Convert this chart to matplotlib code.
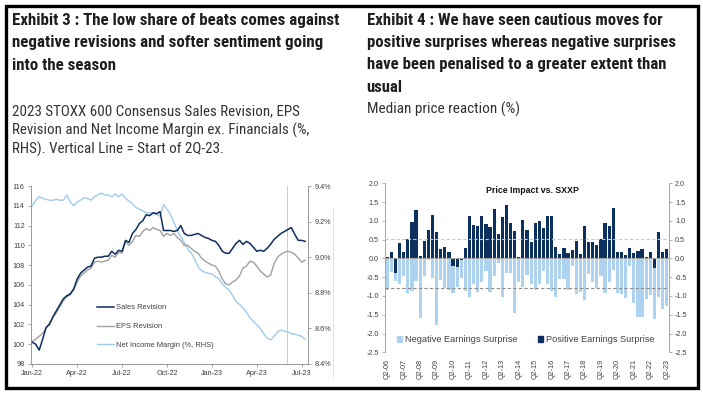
import matplotlib
matplotlib.use('Agg')
import matplotlib.pyplot as plt
import matplotlib.dates as mdates
from matplotlib import font_manager as fm
from matplotlib.patches import Rectangle, Patch
from matplotlib.lines import Line2D
from matplotlib.ticker import FuncFormatter, MultipleLocator
import numpy as np
import pandas as pd

# ---------------- data: Exhibit 3 (weekly readings) ----------------
series_start = '2022-01-01'
sales_revision = [100.2, 100.0, 99.4, 100.5, 101.7, 102.0, 102.8, 103.4, 104.0, 104.6,
                  104.9, 105.1, 105.6, 106.6, 107.2, 107.5, 107.8, 107.9, 108.7, 108.8,
                  108.8, 108.9, 108.9, 109.4, 109.1, 109.5, 109.4, 110.5, 110.3, 111.2,
                  111.6, 112.2, 112.5, 113.1, 113.0, 113.3, 113.2, 113.4, 111.5, 111.5,
                  111.5, 111.4, 111.5, 112.0, 111.2, 111.0, 111.0, 111.1, 111.2, 111.0,
                  110.8, 110.7, 110.5, 110.4, 110.0, 109.4, 109.2, 109.2, 109.7, 110.2,
                  110.5, 110.1, 110.4, 110.2, 109.8, 109.4, 109.5, 109.4, 109.7, 110.1,
                  110.6, 110.9, 111.2, 111.4, 111.6, 111.8, 111.1, 110.5, 110.5, 110.4]
eps_revision = [100.3, 100.5, 100.8, 101.1, 101.6, 102.2, 102.7, 103.2, 103.8, 104.4,
                104.8, 105.0, 105.5, 106.3, 106.9, 107.2, 107.5, 107.7, 108.3, 108.4,
                108.3, 108.4, 108.5, 109.0, 108.8, 109.3, 109.2, 110.4, 110.0, 110.4,
                111.0, 110.9, 111.4, 111.7, 111.5, 111.8, 111.6, 111.5, 110.9, 111.2,
                111.0, 111.2, 110.8, 110.5, 110.0, 110.0, 109.7, 109.4, 109.2, 108.7,
                108.4, 108.2, 108.0, 107.9, 107.4, 106.6, 106.1, 106.0, 106.3, 106.5,
                106.9, 107.7, 107.9, 108.4, 108.3, 107.9, 107.4, 107.1, 106.8, 107.0,
                108.1, 108.8, 109.1, 109.3, 109.4, 109.3, 109.1, 108.7, 108.3, 108.5]
net_income_margin = [9.29, 9.32, 9.34, 9.33, 9.325, 9.32, 9.32, 9.325, 9.32, 9.32,
                     9.35, 9.31, 9.29, 9.31, 9.32, 9.335, 9.33, 9.32, 9.34, 9.35,
                     9.36, 9.35, 9.35, 9.34, 9.355, 9.34, 9.355, 9.33, 9.315, 9.30,
                     9.28, 9.27, 9.26, 9.25, 9.25, 9.245, 9.24, 9.23, 9.295, 9.27,
                     9.24, 9.195, 9.15, 9.115, 9.085, 9.045, 9.025, 8.99, 8.945, 8.925,
                     8.915, 8.91, 8.905, 8.89, 8.88, 8.85, 8.83, 8.815, 8.785, 8.75,
                     8.735, 8.715, 8.69, 8.66, 8.64, 8.62, 8.60, 8.57, 8.545, 8.535,
                     8.555, 8.58, 8.59, 8.585, 8.58, 8.57, 8.568, 8.562, 8.555, 8.54]
start_2q23 = '2023-06-02'
series_labels = ['Sales Revision', 'EPS Revision', 'Net Income Margin (%, RHS)']

# ---------------- data: Exhibit 4 (quarterly, Q2-06 .. Q2-23) ----------------
negative_surprise = [-0.85, -0.36, -0.59, -0.67, -0.48, -0.91, -0.86, -0.59, -1.58, -0.48,
                     -0.04, -0.52, -1.76, -0.57, -0.78, -0.83, -0.93, -0.76, -0.52, -0.88,
                     -1.02, -0.68, -0.89, -0.64, -0.34, -0.89, -0.48, -0.13, -1.04, -0.40,
                     -0.40, -1.46, -0.62, -0.76, -0.44, -0.67, -0.84, -0.67, -0.34, -0.67,
                     -0.88, -1.02, -0.55, -0.54, -0.84, -0.21, -0.94, -0.90, -1.12, -0.42,
                     -0.62, -0.80, -0.47, -0.92, -0.64, -0.30, -0.92, -0.95, -1.05, -0.20,
                     -1.18, -1.57, -1.55, -1.08, -0.97, -1.60, -1.02, -1.34, -1.27]
positive_surprise = [0.03, 0.17, -0.40, 0.42, 0.17, 0.52, 0.97, 1.28, 0.07, 0.47,
                     0.76, 1.16, 0.70, 0.26, 0.31, 0.18, -0.19, -0.22, -0.03, 0.28,
                     1.13, 0.90, 0.87, 1.12, 0.91, 0.84, 1.31, 0.66, 1.09, 1.42,
                     0.95, 0.74, 0.04, 1.03, 0.76, 0.45, 0.94, 1.00, 0.82, 1.13,
                     1.13, 0.30, 0.12, 0.28, 0.15, 0.23, 0.47, 0.12, 0.86, 0.45,
                     0.44, 0.35, 0.52, 0.95, 0.87, 1.34, 0.18, 0.16, 0.08, 0.28,
                     0.15, 0.21, 0.25, 0.04, 0.18, -0.26, 0.71, 0.18, 0.26]
avg_positive = 0.53
avg_negative = -0.80
quarter_tick_labels = ['Q2-06', 'Q2-07', 'Q2-08', 'Q2-09', 'Q2-10', 'Q2-11', 'Q2-12',
                       'Q2-13', 'Q2-14', 'Q2-15', 'Q2-16', 'Q2-17', 'Q2-18', 'Q2-19',
                       'Q2-20', 'Q2-21', 'Q2-22', 'Q2-23']
bar_labels = ['Negative Earnings Surprise', 'Positive Earnings Surprise']

# ---------------- fonts ----------------
avail = {f.name for f in fm.fontManager.ttflist}
base_font = 'Liberation Sans' if 'Liberation Sans' in avail else 'DejaVu Sans'
plt.rcParams['font.family'] = [base_font, 'DejaVu Sans']
title_font = next((f for f in ['Liberation Sans Narrow', 'Roboto Condensed',
                               'Open Sans Condensed', 'Liberation Sans', 'DejaVu Sans']
                   if f in avail), 'DejaVu Sans')

# ---------------- figure ----------------
W, H = 703, 393
fig = plt.figure(figsize=(W / 100, H / 100), dpi=100)
fig.patch.set_facecolor('white')


def fx(px):
    return px / W


def fy(py):
    return 1 - py / H


renderer = fig.canvas.get_renderer()


def text_block(x_px, baselines, lines, widths, weight, color, size0=11):
    objs = [fig.text(fx(x_px), fy(b), s, fontsize=size0, fontweight=weight,
                     family=[title_font, 'DejaVu Sans'], color=color,
                     ha='left', va='baseline') for s, b in zip(lines, baselines)]
    meas = sum(t.get_window_extent(renderer=renderer).width for t in objs)
    k = sum(widths) / meas
    for t in objs:
        t.set_fontsize(size0 * k)
    return objs


title_col = '#1e1e1e'
sub_col = '#333333'
text_block(11.7, [25, 47.3, 69.5],
           ['Exhibit 3 : The low share of beats comes against',
            'negative revisions and softer sentiment going',
            'into the season'],
           [321, 313, 103], 'bold', title_col)
text_block(11.7, [115, 134.5, 154],
           ['2023 STOXX 600 Consensus Sales Revision, EPS',
            'Revision and Net Income Margin ex. Financials (%,',
            'RHS). Vertical Line = Start of 2Q-23.'],
           [283, 300, 215], 'normal', sub_col)
text_block(366.7, [25, 47.3, 69.5, 91.7],
           ['Exhibit 4 : We have seen cautious moves for',
            'positive surprises whereas negative surprises',
            'have been penalised to a greater extent than',
            'usual'],
           [288, 308, 302, 35], 'bold', title_col)
text_block(366.7, [114],
           ['Median price reaction (%)'],
           [153], 'normal', sub_col)

# ---------------- Exhibit 3 chart ----------------
navy = '#0f2d5c'
grey_line = '#a0a0a0'
light_blue = '#9fcbee'
spine_col = '#9a9a9a'
tick_col = '#404040'

dates = pd.date_range(series_start, periods=len(sales_revision), freq='7D')
ax1 = fig.add_axes([fx(31), fy(364), (308.3 - 31) / W, (364 - 186) / H])
ax1b = ax1.twinx()
ax1b.plot(dates, net_income_margin, color=light_blue, lw=1.0, zorder=1)
ax1.set_zorder(ax1b.get_zorder() + 1)
ax1.patch.set_visible(False)
ax1.plot(dates, eps_revision, color=grey_line, lw=1.0, zorder=2)
ax1.plot(dates, sales_revision, color=navy, lw=1.1, zorder=3)
ax1.axvline(pd.Timestamp(start_2q23), color='#c4c4c4', lw=0.6, zorder=0)

t0 = mdates.date2num(pd.Timestamp(series_start))
ax1.set_xlim(t0 - 2.6, t0 + 559.4)
ax1.set_ylim(98, 116)
ax1.yaxis.set_major_locator(MultipleLocator(2))
ax1b.set_ylim(8.4, 9.4)
ax1b.set_yticks(np.arange(8.4, 9.41, 0.2))
ax1b.yaxis.set_major_formatter(FuncFormatter(lambda v, p: f'{v:.1f}%'))
ax1.xaxis.set_major_locator(mdates.MonthLocator(bymonth=[1, 4, 7, 10]))
ax1.xaxis.set_major_formatter(mdates.DateFormatter('%b-%y'))

for a in (ax1, ax1b):
    a.spines['top'].set_visible(False)
    for s in ('left', 'right', 'bottom'):
        a.spines[s].set_color(spine_col)
        a.spines[s].set_linewidth(0.7)
    a.tick_params(labelsize=5.2, colors=spine_col, labelcolor=tick_col,
                  length=2.5, width=0.6, pad=2)
ax1b.spines['left'].set_visible(False)
ax1b.spines['bottom'].set_visible(False)

fig.legend([Line2D([], [], color=navy, lw=1.1),
            Line2D([], [], color=grey_line, lw=1.0),
            Line2D([], [], color=light_blue, lw=1.0)],
           series_labels, loc='upper left', bbox_to_anchor=(fx(97), fy(304)),
           bbox_transform=fig.transFigure, frameon=False, fontsize=5.4,
           handlelength=2.3, handletextpad=0.3, labelspacing=1.55,
           borderpad=0, borderaxespad=0, labelcolor=tick_col)

# faint image edge line
fig.add_artist(Line2D([fx(333), fx(333)], [fy(208), fy(377)], color='#dcdcdc',
                      lw=0.6, transform=fig.transFigure))

# ---------------- Exhibit 4 chart ----------------
dark_bar = '#0c3160'
light_bar = '#aed3f0'
x = np.arange(len(negative_surprise))
ax2 = fig.add_axes([fx(385.2), fy(352.3), (668.8 - 385.2) / W, (352.3 - 183.3) / H])
ax2.bar(x, negative_surprise, width=0.78, color=light_bar, zorder=2)
ax2.bar(x, positive_surprise, width=0.78, color=dark_bar, zorder=2.5)
ax2.axhline(0, color='#a6a6a6', lw=0.8, zorder=3)
ax2.axhline(avg_positive, color='#c9c9c9', lw=0.8, ls=(0, (3, 2)), zorder=4)
ax2.axhline(avg_negative, color='#8c8c8c', lw=0.8, ls=(0, (3, 2)), zorder=4)
ax2.set_xlim(-0.5, len(x) - 0.5)
ax2.set_ylim(-2.5, 2.0)
ax2.set_yticks(np.arange(-2.5, 2.01, 0.5))
ax2.yaxis.set_major_formatter(FuncFormatter(lambda v, p: f'{v:.1f}'))
ax2.set_xticks(x[::4])
ax2.set_xticklabels(quarter_tick_labels, rotation=90, ha='center', va='top')
for s in ('top', 'bottom'):
    ax2.spines[s].set_visible(False)
for s in ('left', 'right'):
    ax2.spines[s].set_color('#a6a6a6')
    ax2.spines[s].set_linewidth(0.7)
ax2.tick_params(axis='y', left=True, right=True, labelleft=True, labelright=True,
                labelsize=5.2, colors='#a6a6a6', labelcolor=tick_col,
                length=2.5, width=0.6, pad=2)
ax2.tick_params(axis='x', length=0, labelsize=5.2, labelcolor=tick_col, pad=5)

fig.text(fx(532.5), fy(191), 'Price Impact vs. SXXP', fontsize=6.3,
         fontweight='bold', color='#111111', ha='center', va='center')

fig.legend([Patch(color=light_bar), Patch(color=dark_bar)], bar_labels,
           loc='center left', bbox_to_anchor=(fx(397), fy(339.5)),
           bbox_transform=fig.transFigure, ncol=2, frameon=False, fontsize=6.6,
           handlelength=0.55, handleheight=0.55, handletextpad=0.35,
           columnspacing=2.2, borderpad=0, borderaxespad=0, labelcolor=tick_col)

# ---------------- outer frame ----------------
fig.add_artist(Rectangle((fx(5.7), fy(388.3)), (697.5 - 5.7) / W, (388.3 - 5.7) / H,
                         transform=fig.transFigure, fill=False, lw=2.4,
                         ec='black'))

fig.savefig('out.png', dpi=100)
